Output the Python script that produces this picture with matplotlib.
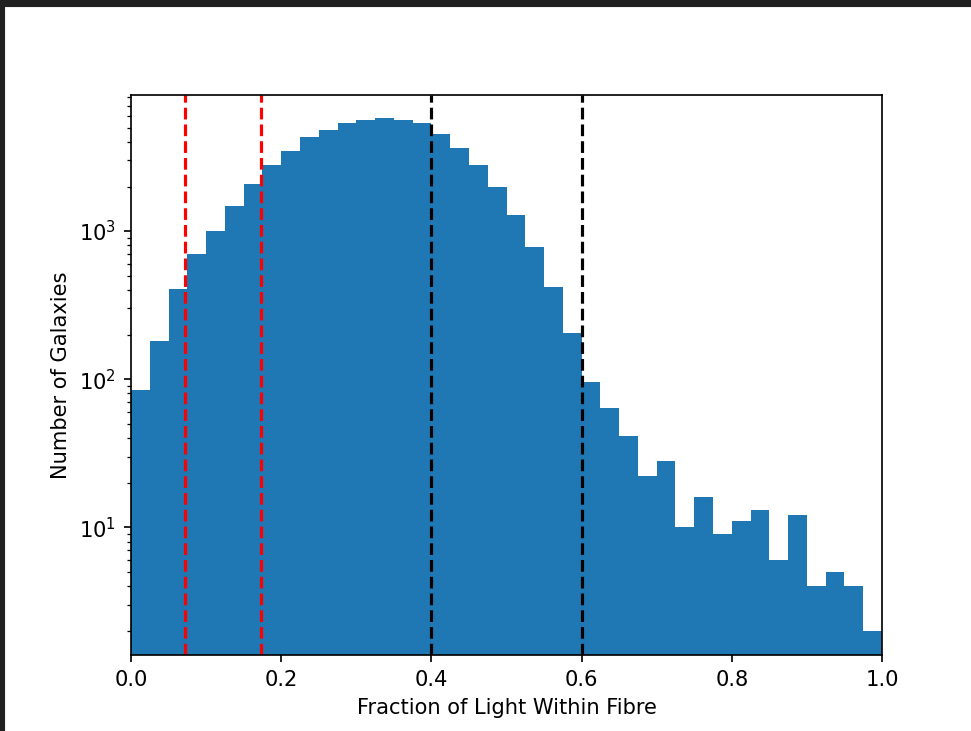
import matplotlib
matplotlib.use("Agg")
import matplotlib.pyplot as plt
import numpy as np
from matplotlib.patches import Rectangle

# Histogram data (40 bins from 0 to 1)
bin_edges = [i / 40 for i in range(41)]
counts = [85, 182, 405, 700, 995, 1480, 2070, 2800, 3490, 4300,
          4810, 5350, 5600, 5830, 5600, 5370, 4520, 3660, 2800, 1970,
          1290, 783, 417, 205, 96, 64, 41, 22, 28, 10,
          16, 9, 11, 13, 6, 12, 4, 5, 4, 2]
red_lines = [0.072, 0.173]
black_lines = [0.4, 0.6]

dpi = 971 / 6.4
fig = plt.figure(figsize=(6.4, 731 / dpi), dpi=dpi)
ax = fig.add_axes([131 / 971, 1 - 655 / 731, (882 - 131) / 971, (655 - 95) / 731])

centers = [(bin_edges[i] + bin_edges[i + 1]) / 2 for i in range(len(counts))]
ax.hist(centers, bins=bin_edges, weights=counts, log=True, color="C0")

for x in red_lines:
    ax.axvline(x, color="r", linestyle="--")
for x in black_lines:
    ax.axvline(x, color="k", linestyle="--")

ax.set_xlim(0, 1.0)
ax.set_ylim(1.37, 8300)
ax.set_xlabel("Fraction of Light Within Fibre")
ax.set_ylabel("Number of Galaxies")

# screenshot dark border (top and left)
fig.patches.append(Rectangle((0, 1 - 6 / 731), 1, 6 / 731, transform=fig.transFigure,
                             color="#202020", zorder=10))
fig.patches.append(Rectangle((0, 0), 4 / 971, 1, transform=fig.transFigure,
                             color="#202020", zorder=10))

fig.savefig("out.png", dpi=dpi)
